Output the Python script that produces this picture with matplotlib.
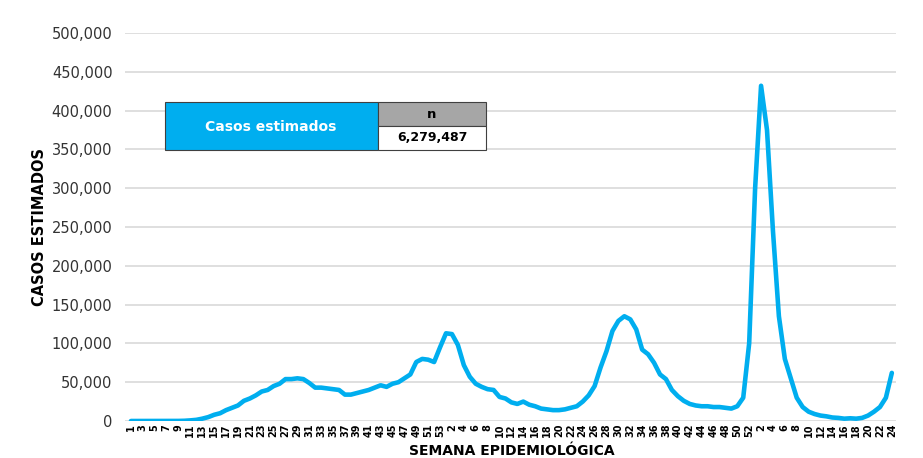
import matplotlib
matplotlib.use("Agg")
import matplotlib.pyplot as plt
from matplotlib.patches import Rectangle

plt.rcParams['font.family'] = ['DejaVu Sans']

# Epidemiological weeks: 2020 (1-53), 2021 (1-52), 2022 (1-24)
weeks = list(range(1, 54)) + list(range(1, 53)) + list(range(1, 25))

casos = [
    0, 0, 0, 0, 0, 0, 0, 0, 100, 300,
    800, 1500, 3000, 5000, 8000, 10000, 14000, 17000, 20000, 26000,
    29000, 33000, 38000, 40000, 45000, 48000, 54000, 54000, 55000, 54000,
    49000, 43000, 43000, 42000, 41000, 40000, 34000, 34000, 36000, 38000,
    40000, 43000, 46000, 44000, 48000, 50000, 55000, 60000, 76000, 80000,
    79000, 76000, 95000, 113000, 112000, 98000, 72000, 57000, 48000, 44000,
    41000, 40000, 31000, 29000, 24000, 22000, 25000, 21000, 19000, 16000,
    15000, 14000, 14000, 15000, 17000, 19000, 25000, 33000, 45000, 69000,
    90000, 116000, 129000, 135000, 131000, 118000, 92000, 86000, 75000, 60000,
    54000, 40000, 32000, 26000, 22000, 20000, 19000, 19000, 18000, 18000,
    17000, 16000, 19000, 30000, 100000, 300000, 432000, 375000, 245000, 135000,
    80000, 55000, 30000, 18000, 12000, 9000, 7000, 6000, 4500, 4000,
    3000, 3500, 3000, 4000, 7000, 12000, 18000, 30000, 62000,
]

y_ticks = [0, 50000, 100000, 150000, 200000, 250000, 300000, 350000, 400000, 450000, 500000]
table_label = "Casos estimados"
table_header = "n"
table_value = "6,279,487"

fig = plt.figure(figsize=(9.23, 4.58), dpi=100)
W, H = 923, 458
ax = fig.add_axes([125 / W, 1 - 421 / H, (896 - 125) / W, (421 - 33) / H])

x = list(range(len(casos)))
ax.plot(x, casos, color='#00AEEF', linewidth=3.3, solid_joinstyle='round', solid_capstyle='round', zorder=3)

ax.set_ylim(0, 500000)
ax.set_xlim(-1, len(casos) - 0.3)
ax.set_yticks(y_ticks)
ax.set_yticklabels([f"{v:,}" for v in y_ticks], fontsize=10.5, color='#333333')
ax.yaxis.grid(True, color='#D9D9D9', linewidth=1.2, zorder=0)
ax.set_axisbelow(True)
for s in ax.spines.values():
    s.set_visible(False)
ax.tick_params(axis='both', length=0)
ax.tick_params(axis='y', pad=9)

tick_pos = x[::2]
ax.set_xticks(tick_pos)
ax.set_xticklabels([str(weeks[i]) for i in tick_pos], rotation=90, fontsize=7,
                   fontweight='bold', color='black')
ax.tick_params(axis='x', pad=2)

ax.set_ylabel("CASOS ESTIMADOS", fontsize=10.5, fontweight='bold', color='black', labelpad=3)
fig.text(512 / W, 1 - 444 / H, "SEMANA EPIDEMIOLÓGICA", fontsize=10, fontweight='bold',
         ha='center', va='top', color='black')

# Summary table
def fr(x0, y0, x1, y1, **kw):
    return Rectangle((x0 / W, 1 - y1 / H), (x1 - x0) / W, (y1 - y0) / H,
                     transform=fig.transFigure, **kw)

fig.patches.append(fr(165, 102, 378, 150, facecolor='#00AEEF', edgecolor='#404040', linewidth=0.8, zorder=5))
fig.patches.append(fr(378, 102, 486, 126, facecolor='#A6A6A6', edgecolor='#404040', linewidth=0.8, zorder=5))
fig.patches.append(fr(378, 126, 486, 150, facecolor='white', edgecolor='#404040', linewidth=0.8, zorder=5))
fig.text(271 / W, 1 - 127 / H, table_label, fontsize=10, fontweight='bold', color='white',
         ha='center', va='center', zorder=6)
fig.text(432 / W, 1 - 114 / H, table_header, fontsize=9.5, fontweight='bold', color='black',
         ha='center', va='center', zorder=6)
fig.text(432 / W, 1 - 138 / H, table_value, fontsize=9, fontweight='bold', color='black',
         ha='center', va='center', zorder=6)

fig.savefig("out.png", dpi=100)
